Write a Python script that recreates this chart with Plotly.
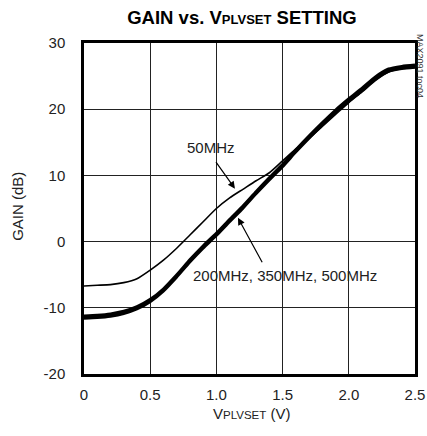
import plotly.graph_objects as go

# Data
v_50 = [0.0, 0.1, 0.2, 0.3, 0.4, 0.5, 0.6, 0.7, 0.8, 0.9, 1.0, 1.1, 1.2, 1.3, 1.4, 1.5, 1.6, 1.7, 1.8, 1.9, 2.0, 2.1, 2.2, 2.3, 2.4, 2.5]
gain_50 = [-6.7, -6.6, -6.5, -6.2, -5.6, -4.3, -2.8, -1.0, 1.0, 3.0, 5.0, 6.6, 7.9, 9.2, 10.4, 12.2, 14.0, 15.6, 17.4, 19.2, 21.0, 22.6, 24.3, 25.6, 26.1, 26.3]

v_hi = [0.0, 0.1, 0.2, 0.3, 0.4, 0.5, 0.6, 0.7, 0.8, 0.9, 1.0, 1.1, 1.2, 1.3, 1.4, 1.5, 1.6, 1.7, 1.8, 1.9, 2.0, 2.1, 2.2, 2.3, 2.4, 2.5]
gain_200 = [-11.6, -11.5, -11.3, -10.9, -10.2, -9.1, -7.5, -5.4, -3.1, -1.0, 0.9, 3.0, 5.0, 7.2, 9.3, 11.3, 13.5, 15.6, 17.6, 19.5, 21.2, 22.8, 24.5, 25.7, 26.1, 26.3]
gain_350 = [-11.4, -11.3, -11.1, -10.7, -10.0, -8.9, -7.3, -5.2, -2.9, -0.8, 1.1, 3.2, 5.2, 7.4, 9.5, 11.5, 13.7, 15.8, 17.8, 19.7, 21.4, 23.0, 24.7, 25.9, 26.3, 26.5]
gain_500 = [-11.2, -11.1, -10.9, -10.5, -9.8, -8.7, -7.1, -5.0, -2.7, -0.6, 1.3, 3.4, 5.4, 7.6, 9.7, 11.7, 13.9, 16.0, 18.0, 19.9, 21.6, 23.2, 24.9, 26.1, 26.5, 26.7]

x_ticks = [0, 0.5, 1.0, 1.5, 2.0, 2.5]
x_tick_labels = ["0", "0.5", "1.0", "1.5", "2.0", "2.5"]
y_ticks = [-20, -10, 0, 10, 20, 30]
y_tick_labels = ["-20", "-10", "0", "10", "20", "30"]

FONT = "Liberation Sans, Arial, sans-serif"
TXT = "#222"
FS = 15

fig = go.Figure()
for name, g in [("200MHz", gain_200), ("350MHz", gain_350), ("500MHz", gain_500)]:
    fig.add_trace(go.Scatter(x=v_hi, y=g, mode="lines", name=name, hoverinfo="skip",
                             line=dict(color="black", width=2.6, shape="spline", smoothing=0.6)))
fig.add_trace(go.Scatter(x=v_50, y=gain_50, mode="lines", name="50MHz", hoverinfo="skip",
                         line=dict(color="black", width=1.6, shape="spline", smoothing=0.6)))

W, H = 427, 436
fig.update_layout(
    width=W, height=H,
    margin=dict(l=84, r=12, t=43, b=62, autoexpand=False),
    paper_bgcolor="white", plot_bgcolor="white",
    showlegend=False,
    font=dict(family=FONT, size=FS, color=TXT),
    title=dict(
        text="<b>GAIN vs. V<span style='font-size:13px'>PLVSET</span> SETTING</b>",
        x=242 / W, xanchor="center", y=1 - 18 / H, yanchor="middle",
        font=dict(family=FONT, size=18.5, color="black"),
    ),
    xaxis=dict(
        range=[0, 2.5], tickvals=x_ticks, ticktext=x_tick_labels,
        showgrid=True, gridcolor="#222", gridwidth=1,
        showline=True, linecolor="black", linewidth=2.5, mirror=True,
        ticks="", zeroline=False, ticklabelstandoff=5, automargin=False,
        tickfont=dict(family=FONT, size=FS, color=TXT),
    ),
    yaxis=dict(
        range=[-20, 30], tickvals=y_ticks, ticktext=y_tick_labels,
        showgrid=True, gridcolor="#222", gridwidth=1,
        showline=True, linecolor="black", linewidth=2.5, mirror=True,
        ticks="", zeroline=False, ticklabelstandoff=13, automargin=False,
        tickfont=dict(family=FONT, size=FS, color=TXT),
    ),
)

# axis titles
fig.add_annotation(xref="paper", yref="paper", x=0, y=0.505, xshift=-66, textangle=-90,
                   xanchor="center", yanchor="middle",
                   text="GAIN (dB)", showarrow=False, font=dict(family=FONT, size=FS, color=TXT))
fig.add_annotation(xref="paper", yref="paper", x=(251 - 84) / 331, y=0, yshift=-39,
                   xanchor="center", yanchor="middle",
                   text="V<span style='font-size:11.5px'>PLVSET</span> (V)", showarrow=False,
                   font=dict(family=FONT, size=FS, color=TXT))

# Labels with arrows
fig.add_annotation(x=1.14, y=8.0, ax=-20, ay=-28, text="", showarrow=True,
                   arrowhead=2, arrowsize=1.2, arrowwidth=1.2, arrowcolor="black")
fig.add_annotation(x=0.96, y=14.2, text="50MHz", showarrow=False,
                   xanchor="center", yanchor="middle",
                   font=dict(family=FONT, size=FS, color=TXT))
fig.add_annotation(x=1.163, y=3.6, ax=25, ay=46, text="", showarrow=True,
                   arrowhead=2, arrowsize=1.2, arrowwidth=1.2, arrowcolor="black")
fig.add_annotation(x=1.52, y=-5.15, text="200MHz, 350MHz, 500MHz", showarrow=False,
                   xanchor="center", yanchor="middle",
                   font=dict(family=FONT, size=FS, color=TXT))

# Figure code, rotated on the right edge
fig.add_annotation(xref="paper", yref="paper", x=1.0, y=1.0, xanchor="right", yanchor="top",
                   xshift=11, yshift=10, text="MAX2091 toc04", textangle=90, showarrow=False,
                   borderpad=0, font=dict(family=FONT, size=9, color="#333"))

fig.write_html("out.html", config={"displayModeBar": False},
               post_script="document.body.style.margin='0';document.body.style.overflow='hidden';")
